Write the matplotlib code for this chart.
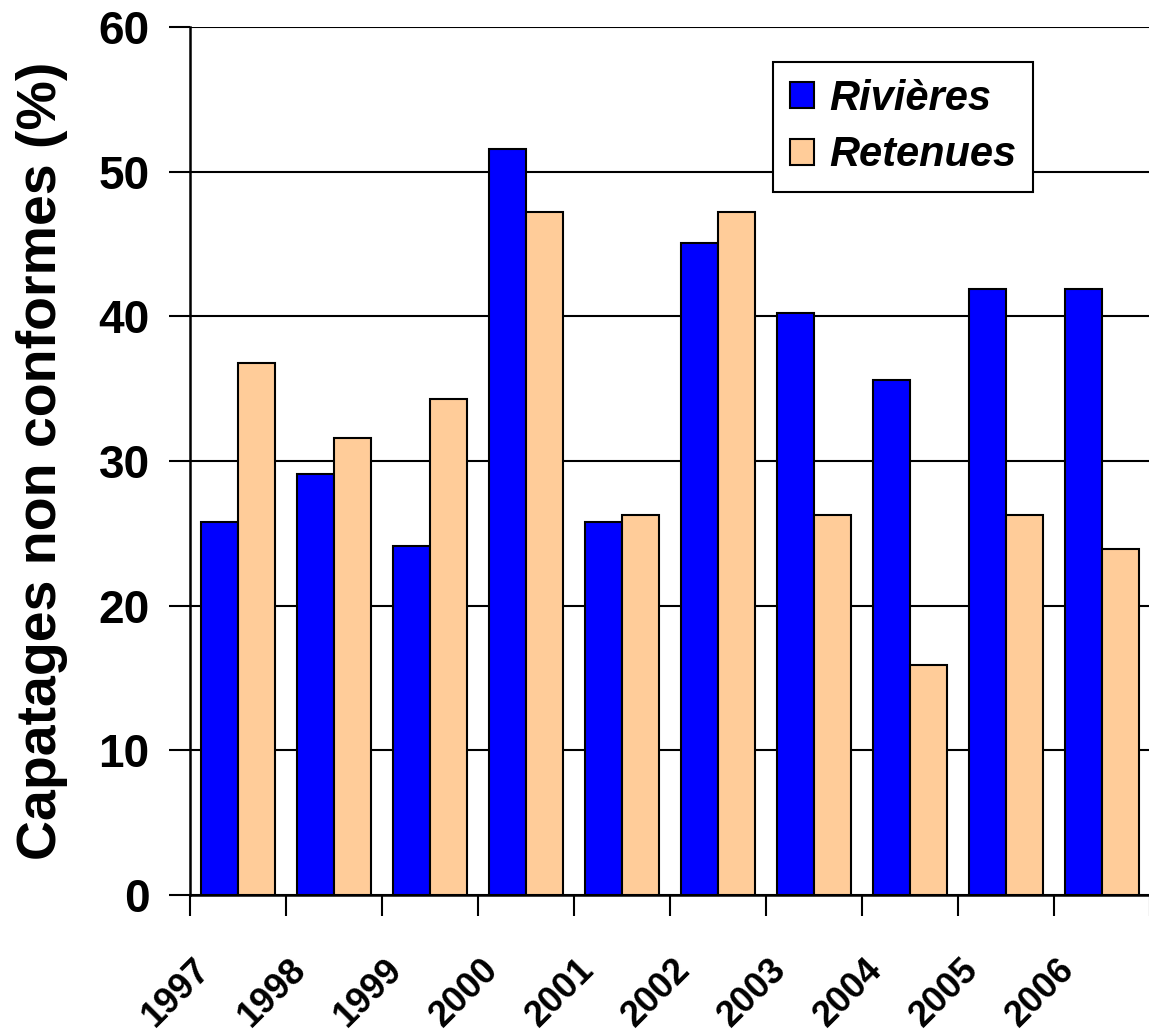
import numpy as np
from matplotlib import pyplot as plt

annees = ['1997', '1998', '1999', '2000', '2001', '2002', '2003', '2004', '2005', '2006']
rivieres = [25.8, 29.1, 24.1, 51.6, 25.8, 45.1, 40.2, 35.6, 41.9, 41.9]
retenues = [36.8, 31.6, 34.3, 47.2, 26.3, 47.2, 26.3, 15.9, 26.3, 23.9]

plt.rcParams['font.family'] = ['Liberation Sans', 'DejaVu Sans']
plt.rcParams['font.weight'] = 'bold'

fig = plt.figure(figsize=(11.49, 10.34), dpi=100)
ax = fig.add_axes([190/1149, 139/1034, 960/1149, 868/1034])

x = np.arange(len(annees))
w = 0.39
ax.bar(x + 0.5 - w/2, rivieres, w, color='#0000FF', edgecolor='black', linewidth=1.5, label='Rivières', zorder=3)
ax.bar(x + 0.5 + w/2, retenues, w, color='#FFCC99', edgecolor='black', linewidth=1.5, label='Retenues', zorder=3)

ax.set_xlim(0, len(annees))
ax.set_ylim(0, 60)
ax.set_yticks(range(0, 61, 10))
ax.yaxis.grid(True, color='black', linewidth=1.5, zorder=0)
ax.tick_params(axis='y', labelsize=33, length=15, width=1.5, pad=14)

# tick marks on category boundaries, labels slightly right of them
ax.set_xticks(np.arange(0, len(annees) + 1), minor=True)
ax.set_xticks(x + 0.16)
ax.set_xticklabels(annees, rotation=45, ha='right', va='center', rotation_mode='anchor', fontsize=26)
ax.tick_params(axis='x', which='major', length=0, pad=50)
ax.tick_params(axis='x', which='minor', length=15, width=1.5)

for s in ['top', 'right']:
    ax.spines[s].set_visible(False)
for s in ['left', 'bottom']:
    ax.spines[s].set_linewidth(1.8)

ax.set_ylabel('Capatages non conformes (%)', fontsize=40, fontweight='bold', labelpad=22)

leg = ax.legend(loc='upper left', bbox_to_anchor=(583/960, 1 - 35/868), borderaxespad=0,
                prop={'size': 30, 'style': 'italic', 'weight': 'bold'},
                fancybox=False, framealpha=1, edgecolor='black', handlelength=0.58, handleheight=0.58,
                handletextpad=0.38, borderpad=0.4, labelspacing=0.4)
leg.get_frame().set_linewidth(1.5)
leg.set_zorder(5)

plt.savefig('out.png', dpi=100)
